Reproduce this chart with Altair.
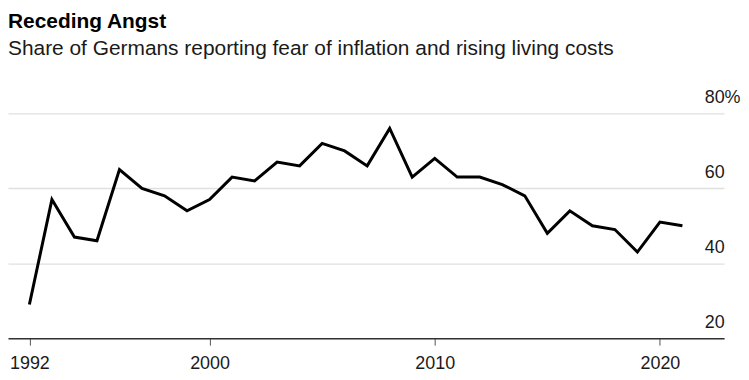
import altair as alt
import pandas as pd

years = list(range(1992, 2022))
share = [29, 57, 47, 46, 65, 60, 58, 54, 57, 63, 62, 67, 66, 72, 70, 66, 76, 63, 68, 63,
         63, 61, 58, 48, 54, 50, 49, 43, 51, 50]
x_ticks = [1992, 2000, 2010, 2020]
y_ticks = [20, 40, 60, 80]

df = pd.DataFrame({"year": years, "share": share})

FONT = "Liberation Sans"

chart = alt.Chart(df).mark_line(color="#000000", strokeWidth=3).encode(
    x=alt.X("year:Q",
            scale=alt.Scale(domain=[1991.05, 2022.85], nice=False, zero=False),
            axis=alt.Axis(values=x_ticks, format="d", title=None, grid=False,
                          domain=True, domainColor="#333333", domainWidth=1.5,
                          ticks=True, tickSize=7, tickColor="#555555", tickWidth=1,
                          labelPadding=9, labelFontSize=18, labelFont=FONT,
                          labelColor="#1a1a1a", labelFlush=False)),
    y=alt.Y("share:Q",
            scale=alt.Scale(domain=[20, 80], nice=False, zero=False),
            axis=alt.Axis(orient="right", values=y_ticks, title=None,
                          grid=True, gridColor="#e0e0e0", gridWidth=1.3,
                          domain=False, ticks=False,
                          labelAlign="left", labelBaseline="alphabetic",
                          labelPadding=-20, labelOffset=-11,
                          labelExpr="datum.value == 80 ? datum.value + '%' : datum.value",
                          labelFontSize=18, labelFont=FONT, labelColor="#1a1a1a")),
).properties(
    width=720,
    height=226,
    padding={"left": 0, "top": 2, "right": 0, "bottom": 0},
    title=alt.TitleParams(
        text="Receding Angst",
        subtitle="Share of Germans reporting fear of inflation and rising living costs",
        anchor="start",
        font=FONT, fontSize=21, fontWeight="bold", color="#000000",
        subtitleFont=FONT, subtitleFontSize=21, subtitleColor="#1a1a1a",
        subtitlePadding=6, offset=30,
    ),
).configure_view(stroke=None)

chart.save("out.html", embed_options={"renderer": "svg", "actions": False})
